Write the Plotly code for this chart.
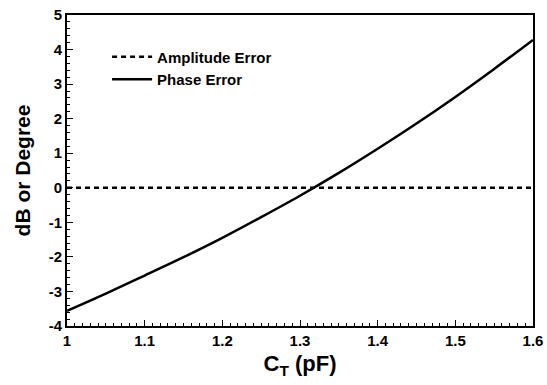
import plotly.graph_objects as go

# Tuning capacitance sweep (pF)
ct_pf = [1.00, 1.05, 1.10, 1.15, 1.20, 1.25, 1.30, 1.35, 1.40, 1.45, 1.50, 1.55, 1.60]
# Phase error (degree)
phase_err = [-3.56, -3.06, -2.54, -2.01, -1.45, -0.85, -0.23, 0.43, 1.13, 1.86, 2.63, 3.44, 4.28]
# Amplitude error (dB)
amp_err = [0.0] * len(ct_pf)

x_ticks = [1.0, 1.1, 1.2, 1.3, 1.4, 1.5, 1.6]
x_labels = ["1", "1.1", "1.2", "1.3", "1.4", "1.5", "1.6"]
y_ticks = [-4, -3, -2, -1, 0, 1, 2, 3, 4, 5]
y_labels = ["-4", "-3", "-2", "-1", "0", "1", "2", "3", "4", "5"]

FONT = "Liberation Sans, Arial, sans-serif"

fig = go.Figure()
fig.add_trace(go.Scatter(
    x=ct_pf, y=amp_err, mode="lines", name="<b>Amplitude Error</b>",
    line=dict(color="black", width=2.5, dash="5px,4px"),
))
fig.add_trace(go.Scatter(
    x=ct_pf, y=phase_err, mode="lines", name="<b>Phase Error</b>",
    line=dict(color="black", width=2.5, shape="spline"),
))

axis_common = dict(
    showgrid=False, zeroline=False, showline=True, linecolor="black",
    linewidth=2, mirror=True, ticks="inside", tickcolor="black",
    tickwidth=1, ticklen=6, automargin=False,
    tickfont=dict(family=FONT, size=15, color="black", weight="bold"),
)

fig.update_layout(
    width=547, height=385,
    margin=dict(l=67, r=14, t=15, b=59),
    plot_bgcolor="white", paper_bgcolor="white",
    showlegend=True,
    legend=dict(
        x=0.086, y=0.918, xanchor="left", yanchor="top",
        bgcolor="rgba(0,0,0,0)", borderwidth=0,
        font=dict(family=FONT, size=15, color="black"),
        tracegroupgap=0, itemwidth=40,
    ),
    xaxis=dict(
        range=[1.0, 1.6], tickvals=x_ticks, ticktext=x_labels,
        minor=dict(dtick=0.01, ticks="inside", ticklen=3, tickcolor="black", tickwidth=1),
        title=dict(text="<b>C<sub>T</sub> (pF)</b>", font=dict(family=FONT, size=22, color="black"),
                   standoff=8),
        **axis_common,
    ),
    yaxis=dict(
        range=[-4, 5], tickvals=y_ticks, ticktext=y_labels,
        minor=dict(dtick=0.2, ticks="inside", ticklen=3, tickcolor="black", tickwidth=1),
        title=dict(text="<b>dB or Degree</b>", font=dict(family=FONT, size=21, color="black"),
                   standoff=12),
        **axis_common,
    ),
)

fig.write_html("out.html")
